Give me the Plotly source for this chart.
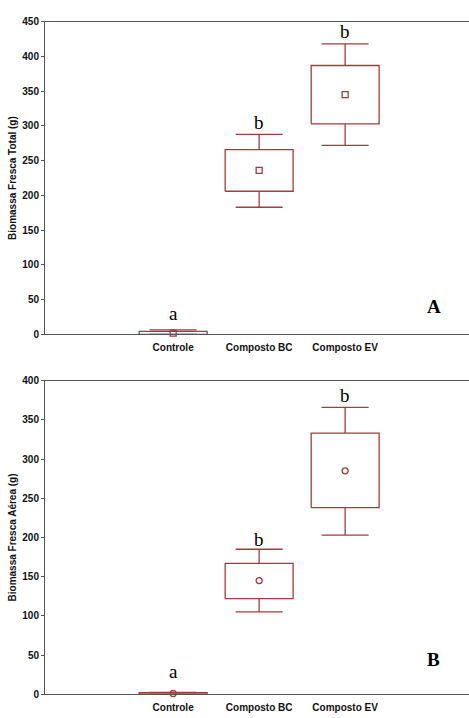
import plotly.graph_objects as go

# Treatments and box statistics (g)
categories = ["Controle", "Composto BC", "Composto EV"]
cat_pos = [1, 2, 3]

# Panel A: total fresh biomass
total_low = [0, 183, 272]
total_q1 = [0, 206, 303]
total_q3 = [4.5, 266, 387]
total_high = [6.5, 288, 418]
total_mean = [2, 236, 345]
total_letters = ["a", "b", "b"]
total_letter_y = [30, 305, 436]

# Panel B: aerial fresh biomass
aerial_low = [0, 105, 203]
aerial_q1 = [0, 122, 238]
aerial_q3 = [2, 167, 333]
aerial_high = [2.5, 185, 366]
aerial_mean = [1, 145, 285]
aerial_letters = ["a", "b", "b"]
aerial_letter_y = [29, 197, 381]

RED = "#A8393D"
AXIS = "#555555"
BOX_HW = 0.395
CAP_HW = 0.273

fig = go.Figure()


def add_panel(xa, ya, low, q1, q3, high, mean, symbol):
    bx, by, wx, wy = [], [], [], []
    for c, lo, a, b, hi in zip(cat_pos, low, q1, q3, high):
        bx += [c - BOX_HW, c + BOX_HW, c + BOX_HW, c - BOX_HW, c - BOX_HW, None]
        by += [a, a, b, b, a, None]
        wx += [c, c, None, c, c, None,
               c - CAP_HW, c + CAP_HW, None, c - CAP_HW, c + CAP_HW, None]
        wy += [b, hi, None, a, lo, None, hi, hi, None, lo, lo, None]
    fig.add_trace(go.Scatter(x=wx, y=wy, mode="lines", xaxis=xa, yaxis=ya,
                             line=dict(color=RED, width=1.3), hoverinfo="skip",
                             showlegend=False, cliponaxis=False))
    fig.add_trace(go.Scatter(x=bx, y=by, mode="lines", xaxis=xa, yaxis=ya,
                             line=dict(color=RED, width=1.3), hoverinfo="skip",
                             showlegend=False, cliponaxis=False))
    fig.add_trace(go.Scatter(x=cat_pos, y=mean, mode="markers", xaxis=xa, yaxis=ya,
                             marker=dict(symbol=symbol, size=6, color=RED,
                                         line=dict(color=RED, width=1.3)),
                             showlegend=False, cliponaxis=False))


add_panel("x", "y", total_low, total_q1, total_q3, total_high, total_mean, "square-open")
add_panel("x2", "y2", aerial_low, aerial_q1, aerial_q3, aerial_high, aerial_mean, "circle-open")

annotations = []
for c, t, yv in zip(cat_pos, total_letters, total_letter_y):
    annotations.append(dict(x=c, y=yv, xref="x", yref="y", text=t, showarrow=False,
                            font=dict(family="Liberation Serif", size=19, color="black")))
for c, t, yv in zip(cat_pos, aerial_letters, aerial_letter_y):
    annotations.append(dict(x=c, y=yv, xref="x2", yref="y2", text=t, showarrow=False,
                            font=dict(family="Liberation Serif", size=19, color="black")))
annotations.append(dict(x=4.03, y=40, xref="x", yref="y", text="<b>A</b>", showarrow=False,
                        font=dict(family="Liberation Serif", size=19, color="black")))
annotations.append(dict(x=4.03, y=44, xref="x2", yref="y2", text="<b>B</b>", showarrow=False,
                        font=dict(family="Liberation Serif", size=19, color="black")))

W, H = 469, 718
tickfont = dict(family="Liberation Sans", size=10, color="#111111")
xrange_ = [-0.49, 4.44]

xcommon = dict(range=xrange_, tickmode="array", tickvals=cat_pos,
               ticktext=["<b>%s</b>" % c for c in categories], ticks="",
               ticklabelstandoff=4,
               showgrid=False, zeroline=False, showline=True, linecolor=AXIS,
               linewidth=1, mirror=True, tickfont=tickfont)
ycommon = dict(showgrid=False, zeroline=False, showline=True, linecolor=AXIS,
               linewidth=1, ticks="outside", ticklen=3, tickcolor=AXIS,
               tickfont=tickfont, dtick=50, tickprefix="<b>", ticksuffix="</b>")

fig.update_layout(
    width=W, height=H,
    margin=dict(l=0, r=0, t=0, b=0),
    paper_bgcolor="white", plot_bgcolor="white",
    xaxis=dict(domain=[45 / W, 1], anchor="y", **xcommon),
    yaxis=dict(domain=[1 - 334 / H, 1 - 16 / H], anchor="x", range=[0, 450],
               title=dict(text="<b>Biomassa Fresca Total (g)</b>", standoff=3,
                          font=dict(family="Liberation Sans", size=10, color="#111111")),
               **ycommon),
    xaxis2=dict(domain=[45 / W, 1], anchor="y2", **xcommon),
    yaxis2=dict(domain=[1 - 700 / H, 1 - 381 / H], anchor="x2", range=[0, 400],
                title=dict(text="<b>Biomassa Fresca Aérea (g)</b>", standoff=3,
                           font=dict(family="Liberation Sans", size=10, color="#111111")),
                **ycommon),
    annotations=annotations,
)

fig.write_html("out.html")
